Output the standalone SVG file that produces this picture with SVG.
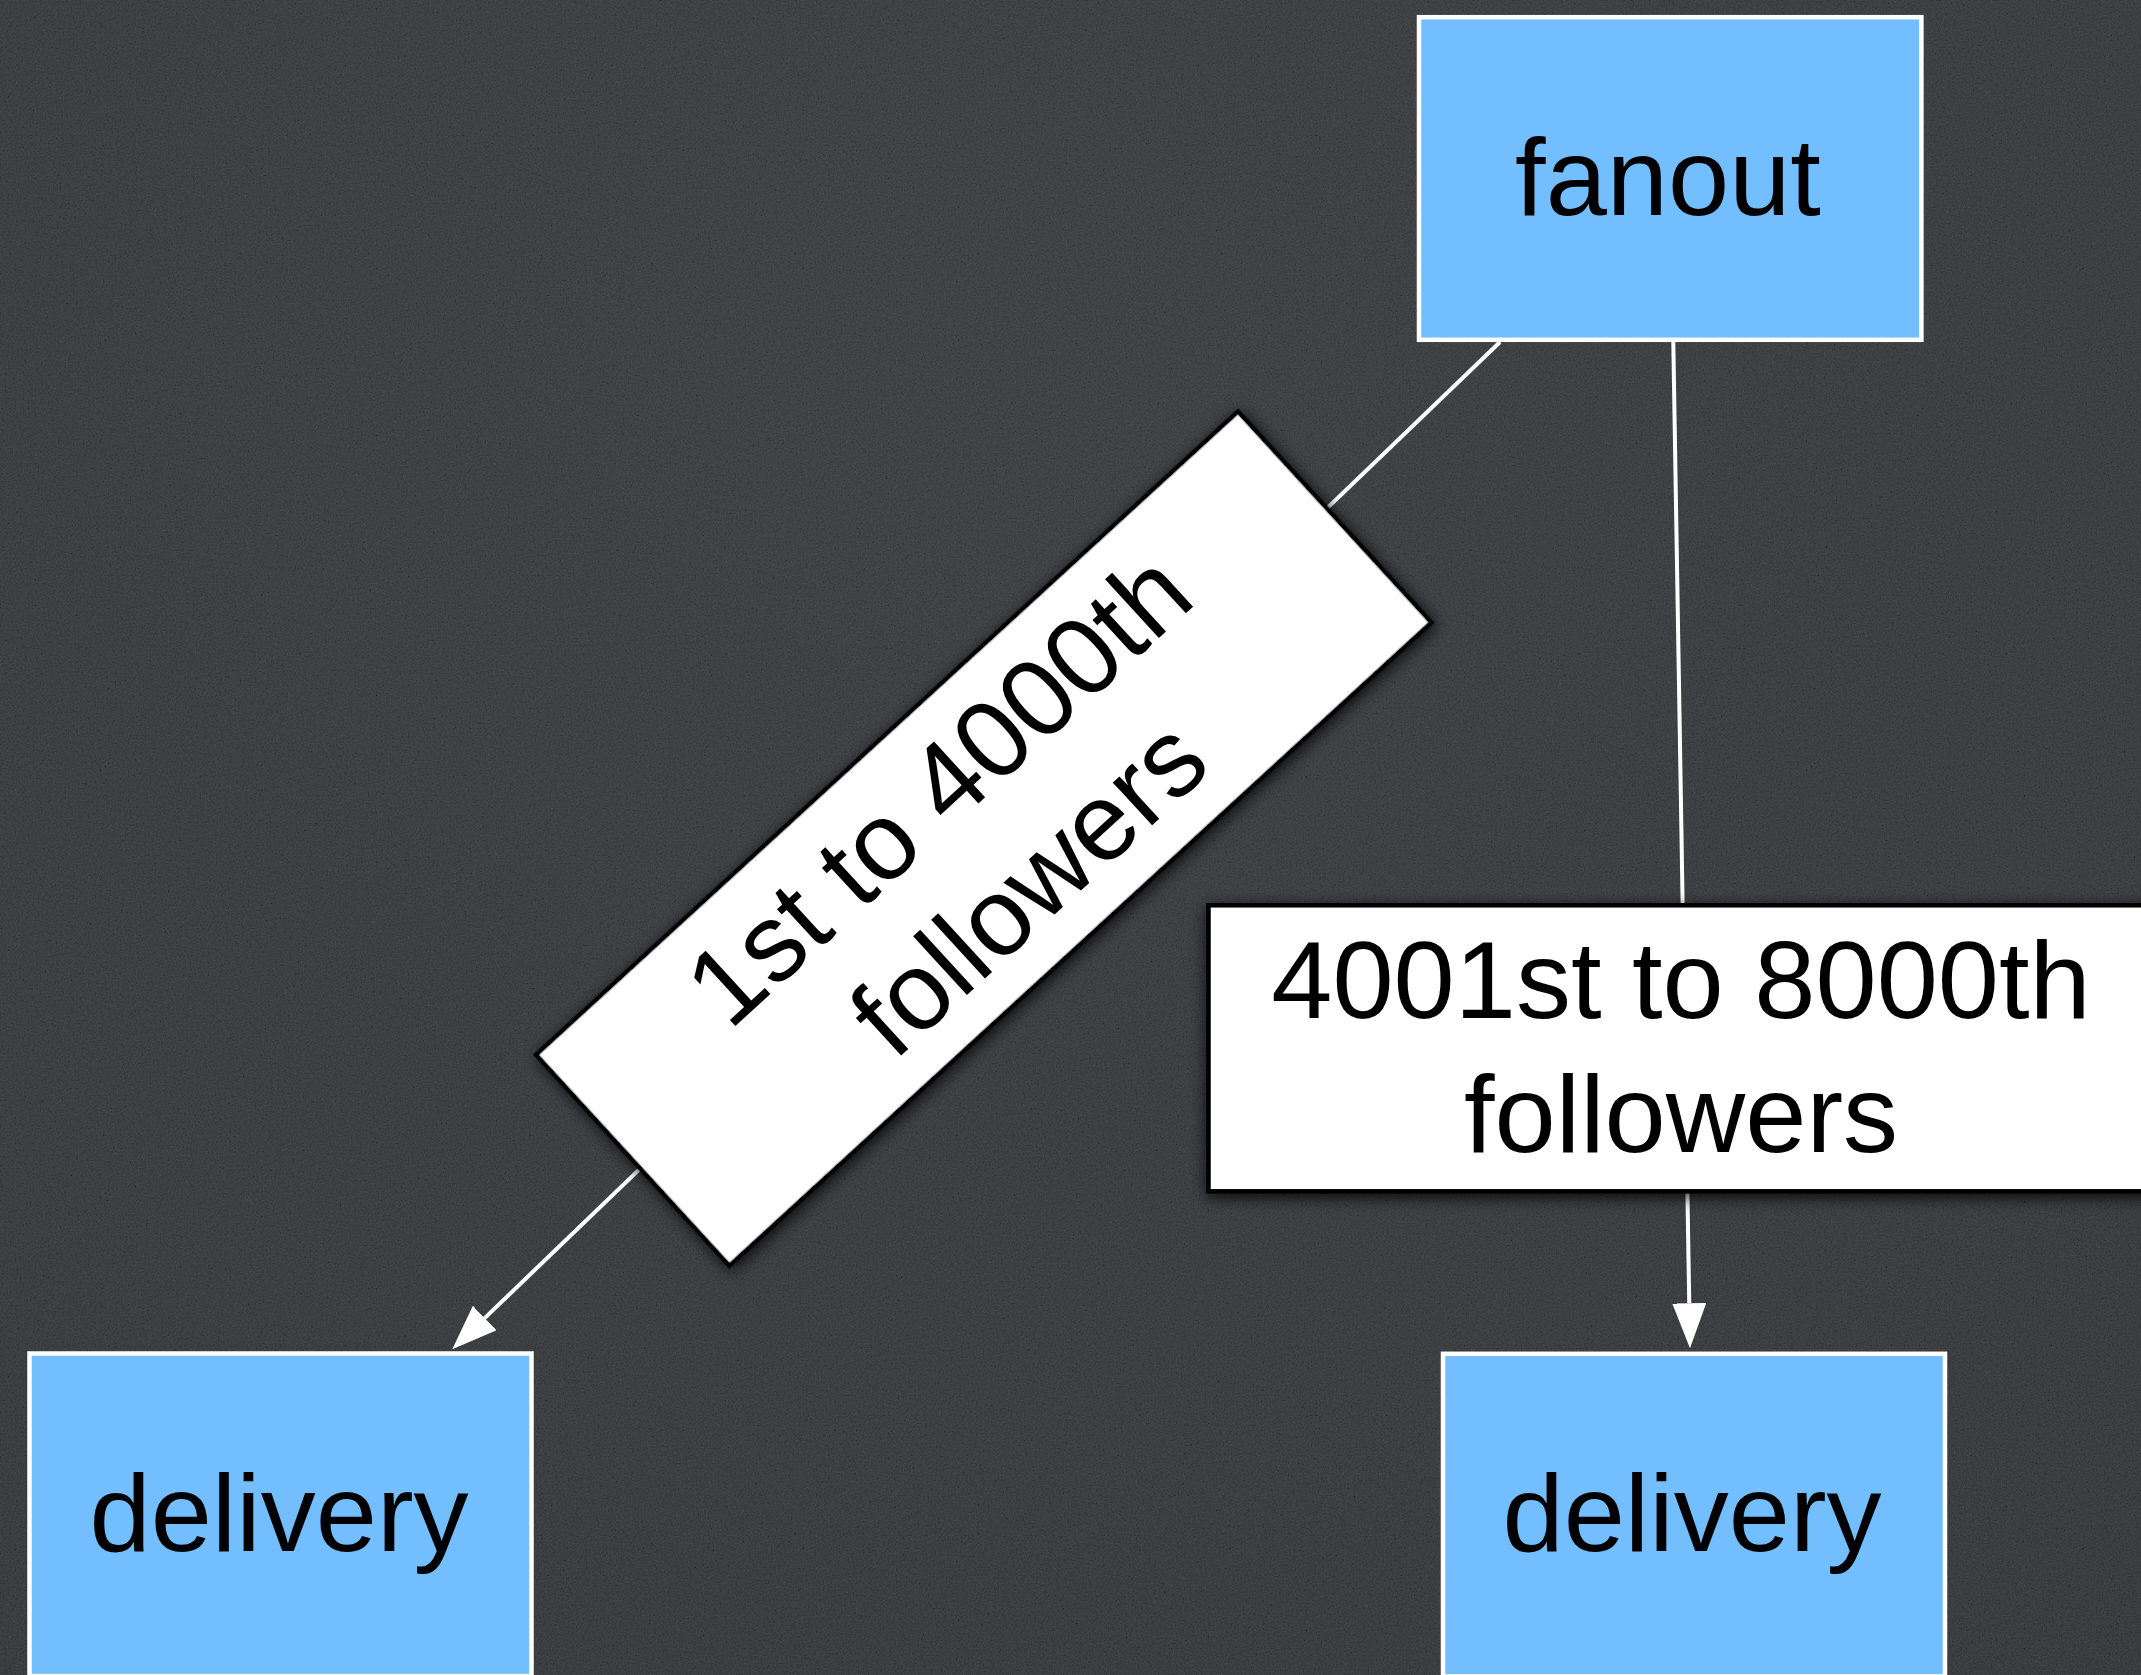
<svg xmlns="http://www.w3.org/2000/svg" width="2141" height="1675" viewBox="0 0 2141 1675">
  <defs>
    <radialGradient id="bg" cx="45%" cy="20%" r="100%">
      <stop offset="0" stop-color="#2e2f34"/>
      <stop offset="1" stop-color="#26272b"/>
    </radialGradient>
    <filter id="grain" x="0" y="0" width="100%" height="100%">
      <feTurbulence type="fractalNoise" baseFrequency="0.6" numOctaves="3" seed="7" stitchTiles="stitch"/>
      <feColorMatrix type="matrix" values="0.67 0.67 0.67 0 -0.5  0.67 0.67 0.67 0 -0.5  0.67 0.67 0.67 0 -0.5  0 0 0 0 0.14"/>
    </filter>
    <filter id="shadow" x="-10%" y="-20%" width="120%" height="140%">
      <feDropShadow dx="0" dy="4" stdDeviation="8" flood-color="#000" flood-opacity="0.85"/>
    </filter>
    <marker id="arrow" markerUnits="userSpaceOnUse" markerWidth="46" markerHeight="36" refX="0" refY="17" orient="auto">
      <path d="M0,0 L45,17 L0,34 Z" fill="#fff"/>
    </marker>
    <style>
      .node rect { fill: #73befe; stroke: #fff; stroke-width: 4.5; }
      .label rect { fill: #fff; stroke: #000; stroke-width: 4.5; filter: url(#shadow); }
      text { font-family: "Liberation Sans", Arial, Helvetica, sans-serif; font-size: 110px; fill: #000; text-anchor: middle; }
      .edge { stroke: #fff; stroke-width: 4; fill: none; marker-end: url(#arrow); }
    </style>
  </defs>

  <!-- textured dark backdrop -->
  <rect width="2141" height="1675" fill="url(#bg)"/>
  <rect width="2141" height="1675" filter="url(#grain)"/>

  <!-- connectors -->
  <g id="connectors">
    <line class="edge" x1="1500" y1="342" x2="484.7" y2="1318.1"/>
    <line class="edge" x1="1673.3" y1="342" x2="1689.25" y2="1303.3"/>
  </g>

  <!-- edge labels -->
  <g id="label-first" class="label" transform="translate(983.7,838.6) rotate(-42.5)">
    <rect x="-476" y="-143" width="952" height="286"/>
    <text x="0" y="-29.5">1st to 4000th</text>
    <text x="0" y="104">followers</text>
  </g>
  <g id="label-second" class="label">
    <rect x="1208.5" y="905.3" width="949" height="286"/>
    <text x="1681" y="1018.3">4001st to 8000th</text>
    <text x="1681" y="1151.7">followers</text>
  </g>

  <!-- nodes -->
  <g id="fanout" class="node">
    <rect x="1419" y="17.2" width="502.4" height="322.6"/>
    <text x="1668" y="215">fanout</text>
  </g>
  <g id="delivery-left" class="node">
    <rect x="29.5" y="1353.5" width="502" height="322.6"/>
    <text x="279" y="1551">delivery</text>
  </g>
  <g id="delivery-right" class="node">
    <rect x="1443" y="1353.8" width="502" height="322.6"/>
    <text x="1692" y="1551">delivery</text>
  </g>
</svg>
